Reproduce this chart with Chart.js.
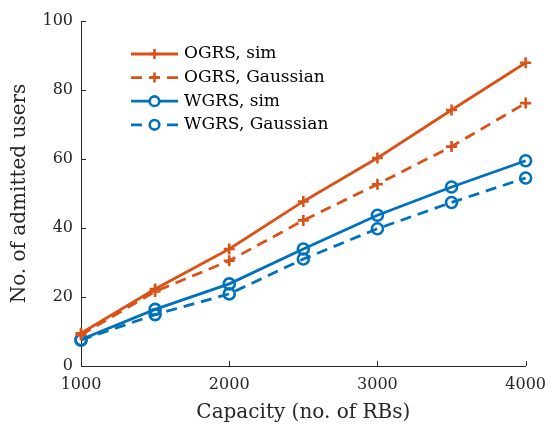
<!DOCTYPE html>
<html lang="en">
<head>
    <meta charset="UTF-8">
    <title>Admitted users vs capacity</title>
    <script src="https://cdn.jsdelivr.net/npm/chart.js"></script>
    <style>
      html, body { margin: 0; padding: 0; background: #fff; }
      #wrap { width: 555px; height: 428px; }
    </style>
</head>
<body>
    <div id="wrap"><canvas id="myChart"></canvas></div>

    <script>
      // capacity (no. of RBs)
      const capacity = [1000, 1500, 2000, 2500, 3000, 3500, 4000];

      const ogrsSim      = [9.5, 22.3, 33.9, 47.7, 60.3, 74.2, 87.9];
      const ogrsGaussian = [9.0, 21.6, 30.5, 42.2, 52.7, 63.6, 76.2];
      const wgrsSim      = [7.7, 16.4, 23.8, 33.9, 43.7, 51.9, 59.5];
      const wgrsGaussian = [7.5, 14.9, 20.9, 31.0, 39.8, 47.4, 54.5];

      const xTicks = [1000, 2000, 3000, 4000];
      const yTicks = [0, 20, 40, 60, 80, 100];

      const orange = '#D95319';
      const blue = '#0072BD';
      const axisColor = '#262626';
      const fontFamily = '"DejaVu Serif", "Liberation Serif", serif';

      function pts(ys) {
          return capacity.map((x, i) => ({ x: x, y: ys[i] }));
      }

      function series(label, ys, color, dashed, marker) {
          return {
              label: label,
              data: pts(ys),
              borderColor: color,
              backgroundColor: 'rgba(0,0,0,0)',
              borderWidth: 2.8,
              borderDash: dashed ? [11, 7] : [],
              pointStyle: marker,
              pointRadius: marker === 'cross' ? 5.5 : 5.5,
              pointBorderWidth: 2.6,
              pointBorderColor: color,
              pointBackgroundColor: 'rgba(0,0,0,0)',
              tension: 0,
              clip: false
          };
      }

      // inward tick marks, like the original figure
      const innerTicks = {
          id: 'innerTicks',
          afterDraw(chart) {
              const ctx = chart.ctx;
              const xs = chart.scales.x, ys = chart.scales.y;
              ctx.save();
              ctx.strokeStyle = axisColor;
              ctx.lineWidth = 1;
              xTicks.forEach(v => {
                  const px = Math.round(xs.getPixelForValue(v)) + 0.5;
                  ctx.beginPath();
                  ctx.moveTo(px, ys.bottom);
                  ctx.lineTo(px, ys.bottom - 5);
                  ctx.stroke();
              });
              yTicks.forEach(v => {
                  const py = Math.round(ys.getPixelForValue(v)) + 0.5;
                  ctx.beginPath();
                  ctx.moveTo(xs.left, py);
                  ctx.lineTo(xs.left + 5, py);
                  ctx.stroke();
              });
              ctx.restore();
          }
      };

      // legend drawn inside the axes, upper left
      const innerLegend = {
          id: 'innerLegend',
          afterDatasetsDraw(chart) {
              const ctx = chart.ctx;
              const x0 = 131, x1 = 178, tx = 184;
              let y = 54;
              ctx.save();
              chart.data.datasets.forEach(ds => {
                  ctx.strokeStyle = ds.borderColor;
                  ctx.lineWidth = ds.borderWidth;
                  ctx.setLineDash(ds.borderDash);
                  ctx.beginPath();
                  ctx.moveTo(x0, y);
                  ctx.lineTo(x1, y);
                  ctx.stroke();
                  ctx.setLineDash([]);
                  ctx.lineWidth = ds.pointBorderWidth;
                  const cx = (x0 + x1) / 2;
                  if (ds.pointStyle === 'circle') {
                      ctx.fillStyle = '#fff';
                      ctx.beginPath();
                      ctx.arc(cx, y, 4.8, 0, Math.PI * 2);
                      ctx.fill();
                      ctx.stroke();
                  } else {
                      const r = 5;
                      ctx.beginPath();
                      ctx.moveTo(cx - r, y); ctx.lineTo(cx + r, y);
                      ctx.moveTo(cx, y - r); ctx.lineTo(cx, y + r);
                      ctx.stroke();
                  }
                  ctx.fillStyle = '#000';
                  ctx.font = '17px ' + fontFamily;
                  ctx.textBaseline = 'middle';
                  ctx.textAlign = 'left';
                  ctx.fillText(ds.label, tx, y);
                  y += 23.6;
              });
              ctx.restore();
          }
      };

      const ctx = document.getElementById('myChart').getContext('2d');
      const myChart = new Chart(ctx, {
          type: 'line',
          data: {
              datasets: [
                  series('OGRS, sim', ogrsSim, orange, false, 'cross'),
                  series('OGRS, Gaussian', ogrsGaussian, orange, true, 'cross'),
                  series('WGRS, sim', wgrsSim, blue, false, 'circle'),
                  series('WGRS, Gaussian', wgrsGaussian, blue, true, 'circle')
              ]
          },
          options: {
              responsive: true,
              maintainAspectRatio: false,
              animation: false,
              layout: { padding: { top: 21, right: 23, left: 0, bottom: 0 } },
              plugins: {
                  legend: { display: false },
                  tooltip: { enabled: false }
              },
              scales: {
                  x: {
                      type: 'linear',
                      min: 1000,
                      max: 4000,
                      afterFit(scale) { scale.height = 62; },
                      afterBuildTicks(scale) { scale.ticks = xTicks.map(v => ({ value: v })); },
                      grid: { display: false, drawTicks: false },
                      border: { display: true, color: axisColor, width: 1 },
                      ticks: {
                          color: axisColor,
                          padding: 9,
                          maxRotation: 0,
                          font: { family: fontFamily, size: 16 },
                          callback: v => String(v)
                      },
                      title: {
                          display: true,
                          text: 'Capacity (no. of RBs)',
                          color: axisColor,
                          font: { family: fontFamily, size: 20 },
                          padding: { top: 0, bottom: 3 }
                      }
                  },
                  y: {
                      min: 0,
                      max: 100,
                      afterFit(scale) { scale.width = 81; },
                      afterBuildTicks(scale) { scale.ticks = yTicks.map(v => ({ value: v })); },
                      grid: { display: false, drawTicks: false },
                      border: { display: true, color: axisColor, width: 1 },
                      ticks: {
                          color: axisColor,
                          padding: 8,
                          font: { family: fontFamily, size: 16 },
                          callback: v => String(v)
                      },
                      title: {
                          display: true,
                          text: 'No. of admitted users',
                          color: axisColor,
                          font: { family: fontFamily, size: 20 },
                          padding: { top: 8, bottom: 0 }
                      }
                  }
              }
          },
          plugins: [innerTicks, innerLegend]
      });
  </script>
</body>
</html>
